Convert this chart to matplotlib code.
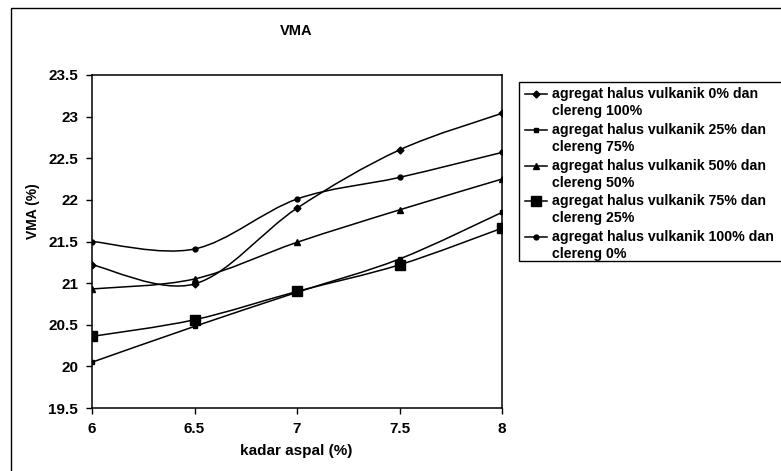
import numpy as np
import matplotlib.pyplot as plt
from matplotlib.path import Path
from matplotlib.patches import PathPatch, Rectangle
from matplotlib.lines import Line2D

plt.rcParams['font.family'] = ['Liberation Sans', 'DejaVu Sans']

kadar_aspal = [6, 6.5, 7, 7.5, 8]
vma_0 = [21.22, 20.99, 21.90, 22.60, 23.04]
vma_25 = [20.05, 20.48, 20.89, 21.29, 21.85]
vma_50 = [20.93, 21.05, 21.49, 21.88, 22.25]
vma_75 = [20.36, 20.56, 20.90, 21.22, 21.66]
vma_100 = [21.50, 21.41, 22.01, 22.27, 22.57]

labels = [('agregat halus vulkanik 0% dan', 'clereng 100%'),
          ('agregat halus vulkanik 25% dan', 'clereng 75%'),
          ('agregat halus vulkanik 50% dan', 'clereng 50%'),
          ('agregat halus vulkanik 75% dan', 'clereng 25%'),
          ('agregat halus vulkanik 100% dan', 'clereng 0%')]
series = [vma_0, vma_25, vma_50, vma_75, vma_100]
markers = [('D', 3.5), ('s', 3.5), ('^', 5), ('s', 7), ('o', 3.5)]

W, H = 781, 471


def smooth_path(x, y):
    # excel-like smoothed line: bezier segments through the data points
    pts = np.column_stack([x, y]).astype(float)
    verts = [pts[0]]
    codes = [Path.MOVETO]
    n = len(pts)
    for i in range(n - 1):
        p0 = pts[max(i - 1, 0)]
        p1 = pts[i]
        p2 = pts[i + 1]
        p3 = pts[min(i + 2, n - 1)]
        c1 = p1 + (p2 - p0) / 6.0
        c2 = p2 - (p3 - p1) / 6.0
        verts += [c1, c2, p2]
        codes += [Path.CURVE4] * 3
    return Path(verts, codes)


def fx(px):
    return px / W


def fy(py):
    return 1 - py / H


fig = plt.figure(figsize=(W / 100, H / 100), dpi=100)
ax = fig.add_axes([fx(92), fy(408), 410 / W, 333 / H])

for vals, (m, ms) in zip(series, markers):
    ax.add_patch(PathPatch(smooth_path(kadar_aspal, vals), fill=False,
                           edgecolor='black', lw=1.1))
    ax.plot(kadar_aspal, vals, linestyle='none', marker=m, markersize=ms,
            color='black')

ax.set_xlim(6, 8)
ax.set_ylim(19.5, 23.5)
ax.set_xticks([6, 6.5, 7, 7.5, 8])
ax.set_xticklabels(['6', '6.5', '7', '7.5', '8'])
ax.set_yticks(np.arange(19.5, 23.51, 0.5))
ax.set_yticklabels(['19.5', '20', '20.5', '21', '21.5', '22', '22.5', '23',
                    '23.5'])
ax.tick_params(direction='out', length=4, width=1, labelsize=11, pad=6)
for t in ax.get_xticklabels() + ax.get_yticklabels():
    t.set_fontweight('bold')
for s in ax.spines.values():
    s.set_linewidth(1.1)

fig.text(fx(296), fy(451), 'kadar aspal (%)', fontsize=11,
         fontweight='bold', ha='center', va='center')
fig.text(fx(33), fy(211), 'VMA (%)', fontsize=10, fontweight='bold',
         rotation=90, ha='center', va='center')
fig.text(fx(296), fy(31), 'VMA', fontsize=10.5, fontweight='bold',
         ha='center', va='center')

# legend drawn by hand so the marker sits on the first text line
fig.patches.append(Rectangle((fx(519), fy(261)), 1.0, (261 - 82) / H,
                             transform=fig.transFigure, fill=False,
                             edgecolor='black', lw=1.0))
for i, ((l1, l2), (m, ms)) in enumerate(zip(labels, markers)):
    y1 = 94 + i * 35.8
    fig.add_artist(Line2D([fx(525), fx(536), fx(547)], [fy(y1)] * 3,
                          transform=fig.transFigure, color='black', lw=1.1,
                          marker=m, markersize=ms, markevery=[1]))
    fig.text(fx(552), fy(y1), l1, fontsize=10.2, fontweight='bold',
             ha='left', va='center')
    fig.text(fx(552), fy(y1 + 17), l2, fontsize=10.2, fontweight='bold',
             ha='left', va='center')

# chart area border
fig.patches.append(Rectangle((fx(11), -0.05), 1.0, 1 - 8 / H + 0.05,
                             transform=fig.transFigure, fill=False,
                             edgecolor='black', lw=1.0))

fig.savefig('out.png', dpi=100)
